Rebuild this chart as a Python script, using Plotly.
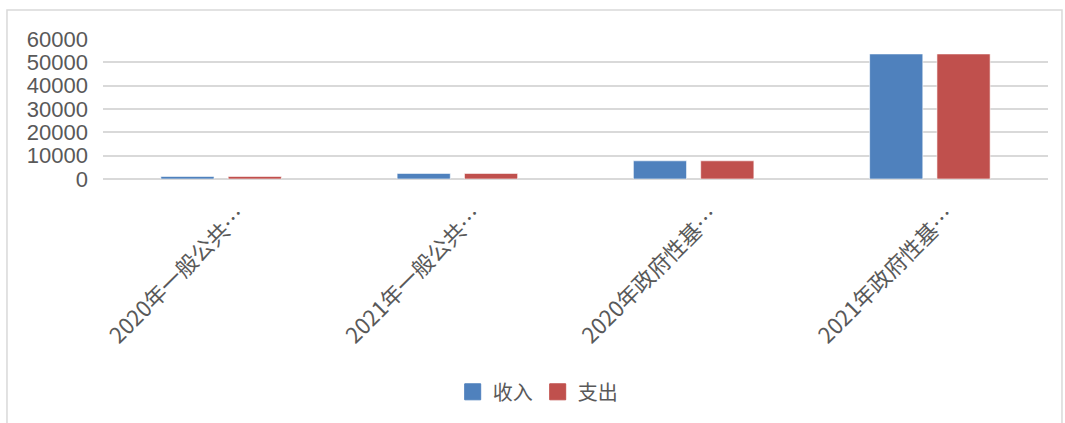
import plotly.graph_objects as go

categories = ["2020年一般公共…", "2021年一般公共…", "2020年政府性基…", "2021年政府性基…"]
income = [1100, 2400, 7800, 53600]
expense = [1100, 2400, 7800, 53600]
series_names = ["收入", "支出"]
y_ticks = [0, 10000, 20000, 30000, 40000, 50000, 60000]

colors = ["#4F81BD", "#C0504D"]

fig = go.Figure()
for name, vals, c in zip(series_names, [income, expense], colors):
    fig.add_trace(go.Bar(
        x=categories, y=vals, name=name, showlegend=False,
        marker=dict(color=c, line=dict(color="rgba(255,255,255,0.6)", width=1)),
    ))
# legend entries with larger square swatches
for name, c in zip(series_names, colors):
    fig.add_trace(go.Scatter(
        x=[None], y=[None], name=name, mode="markers",
        marker=dict(symbol="square", size=16, color=c,
                    line=dict(color=c, width=1)),
    ))

fig.update_layout(
    width=1065, height=423,
    margin=dict(l=103, r=17, t=39, b=244),
    paper_bgcolor="white", plot_bgcolor="white",
    barmode="group", bargap=0.43, bargroupgap=0.21,
    font=dict(family="Liberation Sans, Noto Sans CJK SC", color="#595959"),
    showlegend=True,
    legend=dict(orientation="h", x=0.46, xanchor="center", y=-1.52, yanchor="middle",
                font=dict(size=20, family="Noto Sans CJK SC", color="#595959"),
                itemwidth=30, itemsizing="trace"),
    shapes=[dict(type="rect", xref="paper", yref="paper",
                 x0=-0.1016, x1=1.0148, y0=-1.78, y1=1.207,
                 line=dict(color="#D9D9D9", width=1.5), fillcolor="rgba(0,0,0,0)", layer="below")],
)
fig.update_yaxes(
    range=[0, 60000], tickvals=y_ticks, ticktext=[str(v) for v in y_ticks],
    showgrid=True, gridcolor="#D9D9D9", gridwidth=1.5,
    zeroline=True, zerolinecolor="#D9D9D9", zerolinewidth=1.5,
    tickfont=dict(size=22, family="Liberation Sans", color="#595959"),
    ticks="", ticklabelstandoff=14,
)
fig.update_xaxes(
    tickangle=-45, showgrid=False, ticks="", showline=False,
    tickfont=dict(size=22, family="Noto Sans CJK SC", color="#595959"),
    ticklabelshift=18, ticklabelstandoff=18,
)

fig.write_html("out.html")
